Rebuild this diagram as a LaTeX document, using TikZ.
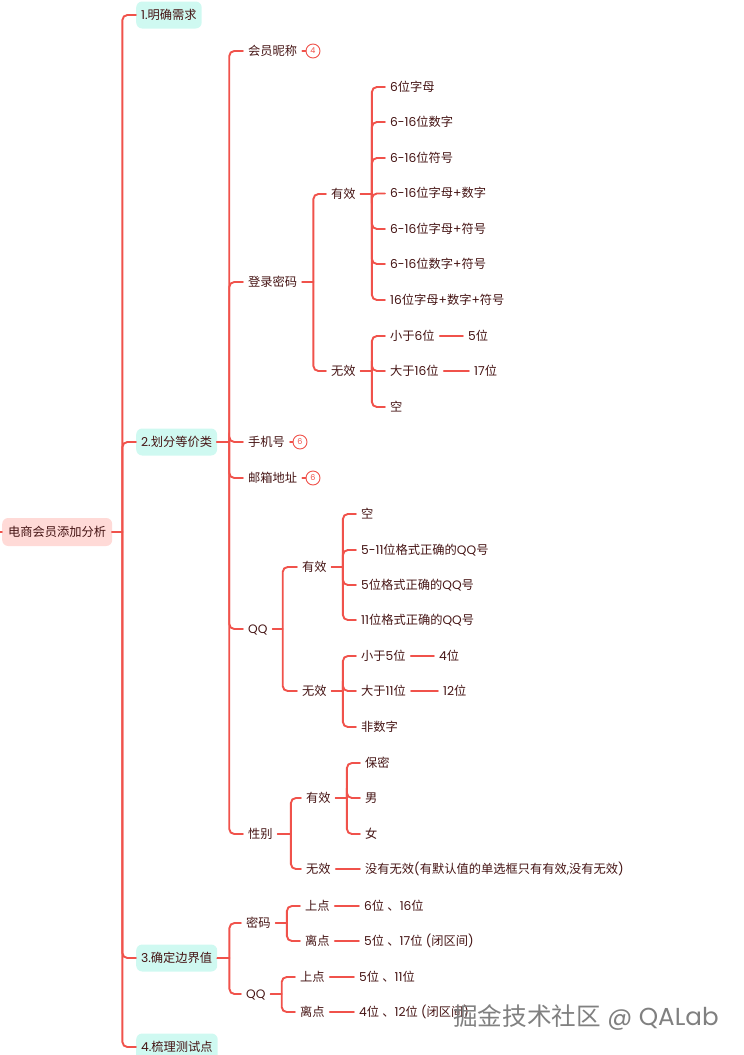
\documentclass[tikz,border=0pt]{standalone}
\usepackage{fontspec}
\setmainfont{Poppins}
\newfontfamily\cjk{Noto Sans CJK SC}
\newfontfamily\latn{Poppins}
% automatic font switching between Latin and Chinese text
\newXeTeXintercharclass\cjkclass
\XeTeXinterchartokenstate=1
\newcount\cc
\cc="4E00
\loop\ifnum\cc<"9FFF \XeTeXcharclass\cc=\cjkclass \advance\cc by 1 \repeat
\XeTeXcharclass"3001=\cjkclass
\XeTeXinterchartoks 0 \cjkclass={\cjk}
\XeTeXinterchartoks 4095 \cjkclass={\cjk}
\XeTeXinterchartoks \cjkclass 0={\latn}
\XeTeXinterchartoks \cjkclass 4095={\latn}
\definecolor{linkred}{HTML}{F0524B}
\definecolor{inktext}{HTML}{451414}
\definecolor{rootfill}{HTML}{FFDAD7}
\definecolor{topicfill}{HTML}{CFF9F1}
\tikzset{
  conn/.style={draw=linkred,line width=1.9pt,line cap=round},
  label/.style={anchor=west,font=\fontsize{12.25pt}{13pt}\selectfont,text=inktext,inner xsep=5pt,inner ysep=0pt,text height=10.6pt,text depth=2pt},
  topic/.style={label,fill=topicfill,rounded corners=6pt,minimum height=27pt},
  rootbox/.style={label,fill=rootfill,rounded corners=6pt,minimum height=28pt,inner xsep=6pt},
  badge/.style={circle,draw=linkred,line width=0.9pt,fill=white,minimum size=14pt,inner sep=0pt,text=linkred,font=\fontsize{8pt}{9pt}\selectfont},
  watermark/.style={anchor=west,font=\fontsize{24.6pt}{26pt}\selectfont,text=black!50,inner sep=0pt}
}
% parent, child, distance from the parent to its vertical bar
\newcommand{\branch}[3]{\draw[conn] (#1.east) -- ++(#3pt,0) ++(0,0) [rounded corners=5pt] |- (#2.west);}
\newcommand{\tie}[2]{\draw[conn] (#1.east) -- (#2.west);}
\begin{document}
\begin{tikzpicture}[x=1pt,y=-1pt]
\useasboundingbox (0,0) rectangle (744,1055);
\coordinate (edge) at (0,532);
\node[rootbox] (root) at (2,532) {电商会员添加分析};
\draw[conn] (edge) -- (root.west);
% first level
\node[topic] (t1) at (136,15) {1.明确需求};
\node[topic] (t2) at (136,442) {2.划分等价类};
\node[topic] (t3) at (136,958) {3.确定边界值};
\node[topic] (t4) at (136,1047) {4.梳理测试点};
\foreach \c in {t1,t2,t3,t4} {\branch{root}{\c}{10}}
% second level of t2
\node[label] (nick) at (243,51) {会员昵称};
\node[label] (pwd) at (243,282) {登录密码};
\node[label] (phone) at (243,442) {手机号};
\node[label] (mail) at (243,478) {邮箱地址};
\node[label] (qq) at (243,629) {QQ};
\node[label] (sex) at (243,834) {性别};
\foreach \c in {nick,pwd,phone,mail,qq,sex} {\branch{t2}{\c}{12}}
\node[badge] (b4) at (313,51) {4};
\node[badge] (b6a) at (300,442) {6};
\node[badge] (b6b) at (313,478) {6};
\draw[conn] (nick.east) -- (b4.west);
\draw[conn] (phone.east) -- (b6a.west);
\draw[conn] (mail.east) -- (b6b.west);
% password
\node[label] (pv) at (326,194) {有效};
\node[label] (pi) at (326,371) {无效};
\branch{pwd}{pv}{11}
\branch{pwd}{pi}{11}
\node[label] (pv1) at (385,87) {6位字母};
\node[label] (pv2) at (385,122) {6-16位数字};
\node[label] (pv3) at (385,158) {6-16位符号};
\node[label] (pv4) at (385,193.5) {6-16位字母+数字};
\node[label] (pv5) at (385,229) {6-16位字母+符号};
\node[label] (pv6) at (385,264) {6-16位数字+符号};
\node[label] (pv7) at (385,300) {16位字母+数字+符号};
\foreach \c in {pv1,pv2,pv3,pv4,pv5,pv6,pv7} {\branch{pv}{\c}{11}}
\node[label] (pi1) at (385,336) {小于6位};
\node[label] (pi2) at (385,371) {大于16位};
\node[label] (pi3) at (385,407) {空};
\foreach \c in {pi1,pi2,pi3} {\branch{pi}{\c}{11}}
\node[label] (pi1a) at (463,336) {5位};
\node[label] (pi2a) at (469,371) {17位};
\tie{pi1}{pi1a}
\tie{pi2}{pi2a}
% qq
\node[label] (qv) at (297,567) {有效};
\node[label] (qi) at (297,691) {无效};
\branch{qq}{qv}{10}
\branch{qq}{qi}{10}
\node[label] (qv1) at (356,514) {空};
\node[label] (qv2) at (356,550) {5-11位格式正确的QQ号};
\node[label] (qv3) at (356,585) {5位格式正确的QQ号};
\node[label] (qv4) at (356,620) {11位格式正确的QQ号};
\foreach \c in {qv1,qv2,qv3,qv4} {\branch{qv}{\c}{11}}
\node[label] (qi1) at (356,656) {小于5位};
\node[label] (qi2) at (356,691) {大于11位};
\node[label] (qi3) at (356,727) {非数字};
\foreach \c in {qi1,qi2,qi3} {\branch{qi}{\c}{11}}
\node[label] (qi1a) at (434,656) {4位};
\node[label] (qi2a) at (438,691) {12位};
\tie{qi1}{qi1a}
\tie{qi2}{qi2a}
% gender
\node[label] (sv) at (301,798) {有效};
\node[label] (si) at (301,869) {无效};
\branch{sex}{sv}{13}
\branch{sex}{si}{13}
\node[label] (sv1) at (360,763) {保密};
\node[label] (sv2) at (360,798) {男};
\node[label] (sv3) at (360,834) {女};
\foreach \c in {sv1,sv2,sv3} {\branch{sv}{\c}{11}}
\node[label] (si1) at (360,869) {没有无效(有默认值的单选框只有有效,没有无效)};
\tie{si}{si1}
% boundary values
\node[label] (bp) at (241,923) {密码};
\node[label] (bq) at (241,994) {QQ};
\branch{t3}{bp}{12}
\branch{t3}{bq}{12}
\node[label] (bpu) at (300,906) {上点};
\node[label] (bpo) at (300,941) {离点};
\branch{bp}{bpu}{11}
\branch{bp}{bpo}{11}
\node[label] (bpua) at (359,906) {6位 、16位};
\node[label] (bpoa) at (359,941) {5位 、17位 (闭区间)};
\tie{bpu}{bpua}
\tie{bpo}{bpoa}
\node[label] (bqu) at (295,977) {上点};
\node[label] (bqo) at (295,1012) {离点};
\branch{bq}{bqu}{11}
\branch{bq}{bqo}{11}
\node[label] (bqua) at (354,977) {5位 、11位};
\node[label] (bqoa) at (354,1012) {4位 、12位 (闭区间)};
\tie{bqu}{bqua}
\tie{bqo}{bqoa}
% watermark
\node[watermark] (wm) at (453,1017) {掘金技术社区 @ QALab};
\end{tikzpicture}
\end{document}
